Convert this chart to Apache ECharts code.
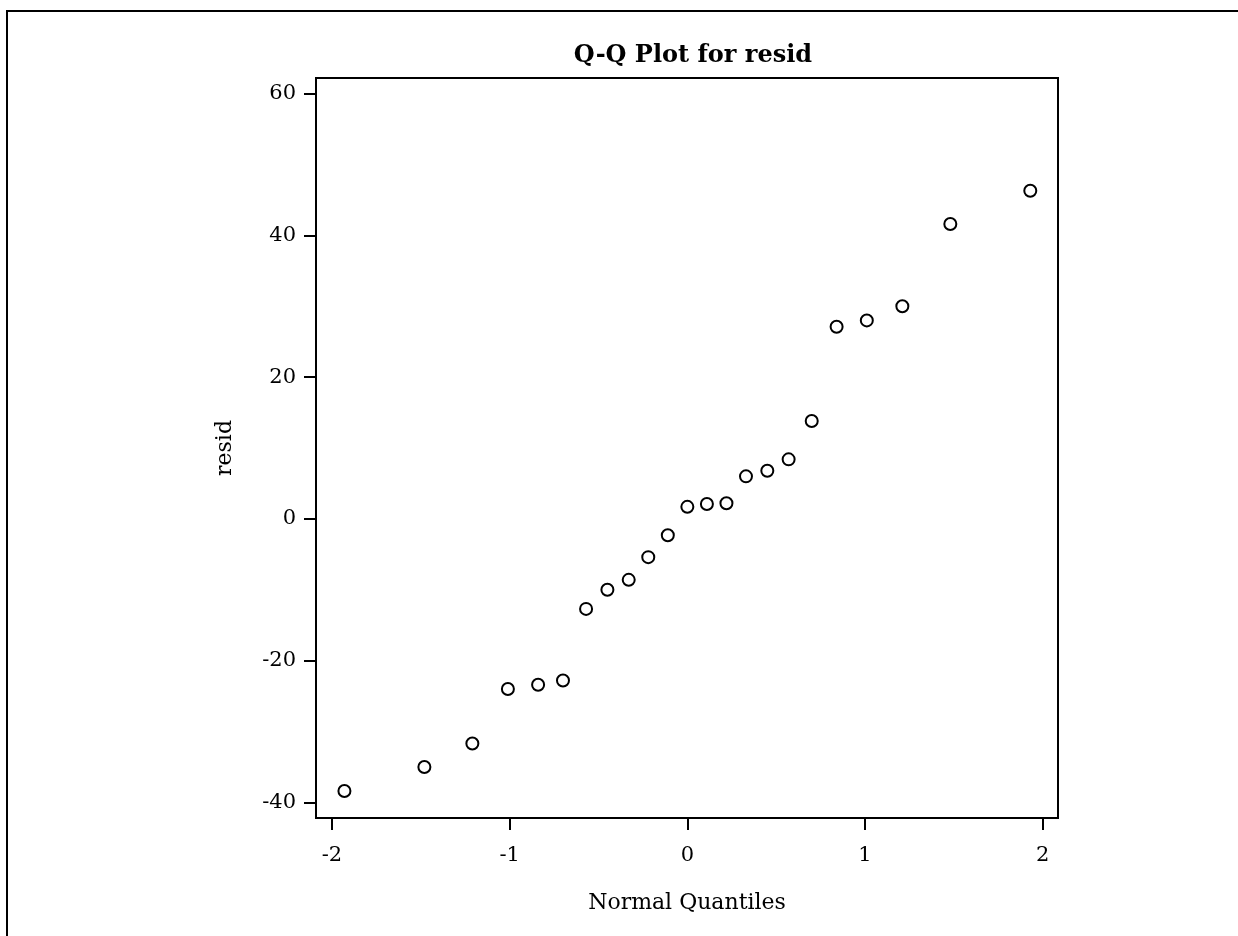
<!DOCTYPE html>
<html>
<head>
<meta charset="utf-8">
<script src="https://cdn.jsdelivr.net/npm/echarts@6/dist/echarts.min.js"></script>
<style>
  html, body { margin: 0; padding: 0; background: #fff; }
  #main { width: 1238px; height: 936px; }
</style>
</head>
<body>
<div id="main"></div>
<script>
// normal quantiles (x) and residuals (y)
var quantiles = [-1.93, -1.48, -1.21, -1.01, -0.84, -0.70, -0.57, -0.45, -0.33, -0.22, -0.11, 0,
                 0.11, 0.22, 0.33, 0.45, 0.57, 0.70, 0.84, 1.01, 1.21, 1.48, 1.93];
var resid = [-38.4, -35.0, -31.7, -24.0, -23.4, -22.8, -12.7, -10.0, -8.6, -5.4, -2.3, 1.7,
             2.1, 2.2, 6.0, 6.8, 8.4, 13.8, 27.1, 28.0, 30.0, 41.6, 46.3];
var xTicks = [-2, -1, 0, 1, 2];
var yTicks = [-40, -20, 0, 20, 40, 60];

var fontFam = 'DejaVu Serif';

var points = quantiles.map(function (q, i) { return [q, resid[i]]; });

var chart = echarts.init(document.getElementById('main'));
chart.setOption({
  backgroundColor: '#fff',
  animation: false,
  title: {
    text: 'Q-Q Plot for resid',
    left: 688,
    textAlign: 'center',
    top: 39,
    textStyle: { fontFamily: fontFam, fontWeight: 'bold', fontSize: 24, color: '#000' }
  },
  grid: {
    left: 316, right: 180, top: 78, bottom: 118,
    show: true, borderColor: '#000', borderWidth: 2, backgroundColor: 'transparent'
  },
  xAxis: {
    type: 'value',
    min: -2.09,
    max: 2.086,
    name: 'Normal Quantiles',
    nameLocation: 'middle',
    nameGap: 74,
    nameTextStyle: { fontFamily: fontFam, fontSize: 22, color: '#000' },
    axisLine: { show: true, onZero: false, lineStyle: { color: '#000', width: 2 } },
    axisTick: { show: true, length: 12, lineStyle: { color: '#000', width: 2 }, customValues: xTicks },
    axisLabel: { fontFamily: fontFam, fontSize: 21, color: '#000', margin: 27, customValues: xTicks },
    splitLine: { show: false }
  },
  yAxis: {
    type: 'value',
    min: -42.2,
    max: 62.2,
    name: 'resid',
    nameLocation: 'middle',
    nameGap: 80,
    nameRotate: 90,
    nameTextStyle: { fontFamily: fontFam, fontSize: 22, color: '#000' },
    axisLine: { show: true, onZero: false, lineStyle: { color: '#000', width: 2 } },
    axisTick: { show: true, length: 12, lineStyle: { color: '#000', width: 2 }, customValues: yTicks },
    axisLabel: { fontFamily: fontFam, fontSize: 21, color: '#000', margin: 20, customValues: yTicks },
    splitLine: { show: false }
  },
  graphic: [
    {
      type: 'polyline',
      shape: { points: [[7, 936], [7, 11], [1238, 11]] },
      style: { stroke: '#000', lineWidth: 2, fill: null },
      silent: true
    }
  ],
  series: [{
    type: 'scatter',
    data: points,
    symbol: 'circle',
    symbolSize: 12,
    itemStyle: { color: '#fff', borderColor: '#000', borderWidth: 2, opacity: 1 },
    emphasis: { disabled: true }
  }]
});
</script>
</body>
</html>
